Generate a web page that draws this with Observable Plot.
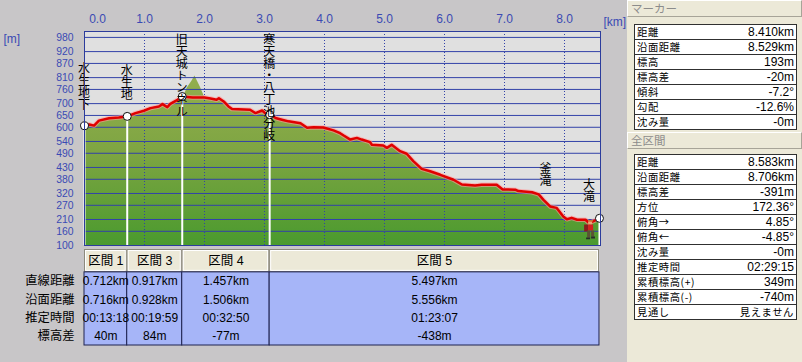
<!DOCTYPE html>
<html><head><meta charset="utf-8">
<script src="https://cdn.jsdelivr.net/npm/d3@7"></script>
<script src="https://cdn.jsdelivr.net/npm/@observablehq/plot@0.6"></script>
<style>
html,body{margin:0;padding:0;}
body{background:#c8c6c8;width:802px;height:362px;overflow:hidden;position:relative;font-family:"Liberation Sans","Noto Sans CJK JP",sans-serif;}
#chart{position:absolute;left:0;top:0;}
#table{position:absolute;left:0;top:248px;}
#panel{position:absolute;left:627px;top:0;width:175px;height:362px;background:#ece9d8;}
.hdr{position:absolute;left:0;width:175px;height:17px;box-sizing:border-box;border-top:1px solid #fff;border-left:1px solid #fff;border-bottom:1px solid #a7a498;border-right:1px solid #a7a498;color:#8c8c8c;font-size:11.5px;line-height:15px;padding-left:3px;font-family:"Noto Sans CJK JP",sans-serif;}
table.info{position:absolute;left:7px;width:163px;border-collapse:collapse;background:#fff;font-size:12px;border:1px solid #303030;}
table.info td{height:14px;padding:0 2px;border-top:1px solid #303030;line-height:14px;white-space:nowrap;color:#000;}
table.info td.l{font-family:"Noto Sans CJK JP",sans-serif;font-size:10.3px;letter-spacing:0.6px;}
table.info td.v{text-align:right;}
table.info td.cjk{font-family:"Noto Sans CJK JP",sans-serif;font-size:10.3px;letter-spacing:0.6px;}
.vlabel{writing-mode:vertical-rl;-webkit-writing-mode:vertical-rl;}
</style></head>
<body>
<div id="chart"></div>
<div id="table"></div>
<div id="panel">
  <div class="hdr" style="top:0">マーカー</div>
  <table class="info" id="t1" style="top:24px"></table>
  <div class="hdr" style="top:132px">全区間</div>
  <table class="info" id="t2" style="top:154px"></table>
</div>
<script>
// ---------- data ----------
const trackKm   = [0, 0.08, 0.16, 0.24, 0.41, 0.57, 0.712, 0.85, 0.99, 1.10, 1.24, 1.30, 1.38, 1.43, 1.55, 1.629, 1.80, 2.00, 2.10, 2.20, 2.24, 2.32, 2.40, 2.46, 2.76, 2.85, 2.96, 3.01, 3.086, 3.20, 3.29, 3.40, 3.60, 3.71, 3.82, 3.98, 4.15, 4.26, 4.32, 4.43, 4.54, 4.62, 4.76, 4.79, 4.98, 5.04, 5.12, 5.26, 5.37, 5.48, 5.62, 5.76, 5.93, 6.15, 6.29, 6.51, 6.62, 6.87, 6.97, 7.18, 7.23, 7.46, 7.57, 7.65, 7.76, 7.87, 7.98, 8.04, 8.12, 8.21, 8.35, 8.41, 8.51, 8.583];
const trackElev = [606, 612, 607, 628, 638, 641, 646, 660, 670, 681, 688, 698, 685, 699, 716, 730, 726, 726, 722, 716, 723, 709, 688, 677, 674, 660, 671, 660, 653, 638, 632, 625, 617, 598, 600, 599, 587, 575, 565, 548, 555, 548, 537, 526, 523, 513, 526, 499, 488, 457, 424, 414, 399, 378, 358, 354, 357, 357, 337, 336, 330, 325, 316, 293, 265, 259, 223, 211, 217, 209, 209, 195, 206, 215];
// terrain section that differs from the track (peak beside the tunnel)
const peakKm   = [1.66, 1.71, 1.79, 1.84, 1.93, 2.0];
const peakElev = [733, 765, 795, 817, 770, 728];

const yTicks = [100, 160, 210, 270, 320, 380, 430, 490, 540, 600, 650, 700, 760, 810, 870, 920, 980];
const xTicks = [0, 1, 2, 3, 4, 5, 6, 7, 8];

const waypointNames  = ["水生地下", "水生地", "旧天城トンネル", "寒天橋・八丁池分岐", "釜滝", "大滝"];
const waypointKm     = [0, 0.712, 1.629, 3.086, 7.69, 8.583];
const waypointElev   = [606, 646, 730, 653, 285, 215];
const waypointMarked = [true, true, true, true, false, true];

const hikerKm = 8.41, hikerElev = 193;

const sectionNames = ["区間 1", "区間 3", "区間 4", "区間 5"];
const sectionStart = [0, 0.712, 1.629, 3.086];
const sectionEnd   = [0.712, 1.629, 3.086, 8.583];
const rowLabels    = ["直線距離", "沿面距離", "推定時間", "標高差"];
const straightDist = ["0.712km", "0.917km", "1.457km", "5.497km"];
const surfaceDist  = ["0.716km", "0.928km", "1.506km", "5.556km"];
const estTime      = ["00:13:18", "00:19:59", "00:32:50", "01:23:07"];
const elevDiff     = ["40m", "84m", "-77m", "-438m"];

const markerLabels = ["距離", "沿面距離", "標高", "標高差", "傾斜", "勾配", "沈み量"];
const markerValues = ["8.410km", "8.529km", "193m", "-20m", "-7.2°", "-12.6%", "-0m"];
const totalLabels  = ["距離", "沿面距離", "標高差", "方位", "俯角→", "俯角←", "沈み量", "推定時間", "累積標高(+)", "累積標高(-)", "見通し"];
const totalValues  = ["8.583km", "8.706km", "-391m", "172.36°", "4.85°", "-4.85°", "-0m", "02:29:15", "349m", "-740m", "見えません"];

// ---------- derived tables ----------
const track = trackKm.map((k, i) => ({km: k, elev: trackElev[i]}));
const terrain = track.filter(d => d.km < peakKm[0] || d.km > peakKm[peakKm.length - 1])
  .concat(peakKm.map((k, i) => ({km: k, elev: peakElev[i]})))
  .sort((a, b) => a.km - b.km);
const waypoints = waypointNames.map((n, i) => ({name: n, km: waypointKm[i], elev: waypointElev[i], marked: waypointMarked[i]}));
const marked = waypoints.filter(d => d.marked);

const W = 627, H = 247, ML = 84, MR = 27, MT = 31, MB = 2;
const xDomain = [0, 8.6], yDomain = [100, 1005];
const fs = 12;

const blue = "#3a4ab4";
const gridBlue = "#3242a8";

const hikerSvg = "<svg xmlns='http://www.w3.org/2000/svg' width='12' height='20' viewBox='0 0 12 20'>" +
  "<rect x='5' y='0' width='5' height='2' fill='#c07838'/><rect x='5' y='2' width='4' height='3' fill='#e8a878'/>" +
  "<rect x='1' y='5' width='4' height='7' fill='#8a1c1c'/><rect x='5' y='5' width='5' height='6' fill='#d42020'/>" +
  "<rect x='4' y='11' width='3' height='7' fill='#5a5432'/><rect x='8' y='11' width='3' height='6' fill='#5a5432'/>" +
  "<rect x='3' y='18' width='4' height='2' fill='#2a2a2a'/><rect x='8' y='17' width='4' height='2' fill='#2a2a2a'/></svg>";
const hikerSrc = "data:image/svg+xml;charset=utf-8," + encodeURIComponent(hikerSvg);

const gradient = () => {
  const defs = d3.create("svg:defs");
  const g = defs.append("linearGradient").attr("id", "terrainFill").attr("x1", 0).attr("x2", 0).attr("y1", 0).attr("y2", 1);
  g.append("stop").attr("offset", "0%").attr("stop-color", "#93ae4e");
  g.append("stop").attr("offset", "45%").attr("stop-color", "#7ea542");
  g.append("stop").attr("offset", "100%").attr("stop-color", "#4a9a2e");
  return defs.node();
};

// vertical (tategaki) waypoint labels, placed with the chart's own scales
const verticalLabels = (index, scales, values, dims) => {
  const {x, y} = scales;
  const top = dims.marginTop, right = dims.width - dims.marginRight;
  const g = d3.create("svg:g")
    .attr("font-family", "'Noto Sans CJK JP',sans-serif")
    .attr("font-size", fs).attr("fill", "#000");
  for (const d of waypoints) {
    const n = [...d.name].length;
    const px = Math.min(x(d.km), right - 11);
    const bottom = y(d.elev) - 15;
    const fits = bottom - n * fs >= top;
    g.append("text")
      .attr("class", "vlabel")
      .attr("x", px)
      .attr("y", fits ? bottom : top + 2)
      .attr("text-anchor", fits ? "end" : "start")
      .text(d.name);
  }
  return g.node();
};

const chart = Plot.plot({
  width: W, height: H,
  marginLeft: ML, marginRight: MR, marginTop: MT, marginBottom: MB,
  style: {background: "transparent", fontFamily: "'Liberation Sans','Noto Sans CJK JP',sans-serif", fontSize: "12px", overflow: "visible"},
  x: {domain: xDomain},
  y: {domain: yDomain},
  marks: [
    gradient,
    Plot.frame({fill: "#e0e0e0"}),
    Plot.areaY(terrain, {x: "km", y1: yDomain[0], y2: "elev", fill: "url(#terrainFill)"}),
    Plot.gridY(yTicks, {stroke: gridBlue, strokeOpacity: 1, strokeWidth: 1}),
    Plot.gridX(xTicks, {stroke: gridBlue, strokeOpacity: 1, strokeWidth: 1, strokeDasharray: "1,2"}),
    Plot.ruleX(marked, {x: "km", y1: yDomain[0], y2: "elev", stroke: "white", strokeWidth: 2}),
    Plot.line(track, {x: "km", y: "elev", stroke: "#ff9a9a", strokeWidth: 4.5, strokeOpacity: 0.6}),
    Plot.line(track, {x: "km", y: "elev", stroke: "#e00000", strokeWidth: 2.5}),
    Plot.image([{km: hikerKm, elev: hikerElev}], {x: "km", y: "elev", src: hikerSrc, width: 12, height: 20, dy: 6}),
    Plot.dot(marked, {x: "km", y: "elev", r: 4, fill: "white", stroke: "#111", strokeWidth: 1}),
    verticalLabels,
    Plot.frame({stroke: "#2c3c9c", strokeWidth: 1}),
    Plot.axisY(yTicks, {anchor: "left", tickSize: 0, tickPadding: 11, fill: blue, fontSize: 10.4, label: null}),
    Plot.axisX([0], {anchor: "top", tickSize: 0, tickPadding: 9, dx: 13, fill: blue, fontSize: 12, tickFormat: d => d.toFixed(1), label: null}),
    Plot.axisX(xTicks.slice(1), {anchor: "top", tickSize: 0, tickPadding: 9, fill: blue, fontSize: 12, tickFormat: d => d.toFixed(1), label: null}),
    Plot.text(["[m]"], {frameAnchor: "top-left", dx: -81, dy: 3, textAnchor: "start", fill: blue, fontSize: 12}),
    Plot.text(["[km]"], {frameAnchor: "top-right", dx: 3, dy: -14, textAnchor: "start", fill: blue, fontSize: 12})
  ]
});
document.getElementById("chart").append(chart);

// ---------- section table (shares the x scale) ----------
const sections = sectionNames.map((n, j) => ({name: n, x1: sectionStart[j], x2: sectionEnd[j], mid: (sectionStart[j] + sectionEnd[j]) / 2}));
const rowsData = [straightDist, surfaceDist, estTime, elevDiff];
const cells = rowsData.flatMap((r, i) => r.map((t, j) => ({row: i, mid: sections[j].mid, t})));
const headerTop = -1.25;

const table = Plot.plot({
  width: W, height: 98,
  marginLeft: ML, marginRight: MR, marginTop: 1, marginBottom: 1,
  style: {background: "transparent", fontFamily: "'Liberation Sans','Noto Sans CJK JP',sans-serif", fontSize: "12px", overflow: "visible"},
  x: {domain: xDomain, axis: null},
  y: {domain: [headerTop, rowLabels.length], reverse: true, axis: null},
  marks: [
    Plot.rect(sections, {x1: "x1", x2: "x2", y1: headerTop, y2: 0, fill: "#ece9d8", stroke: "#8c897c", inset: 0.5}),
    Plot.rect(sections, {x1: "x1", x2: "x2", y1: headerTop, y2: 0, fill: "none", stroke: "#ffffff", inset: 1.5}),
    Plot.rect(sections, {x1: "x1", x2: "x2", y1: 0, y2: rowLabels.length, fill: "#a6b5f8", stroke: "#1e2250", strokeWidth: 1}),
    Plot.text(sections, {x: "mid", y: headerTop / 2, text: "name", fill: "#000", fontSize: 12.5}),
    Plot.text(cells, {x: "mid", y: d => d.row + 0.5, text: "t", fill: "#000", fontSize: 12}),
    Plot.text(rowLabels, {y: (d, i) => i + 0.5, frameAnchor: "left", dx: -10, textAnchor: "end", fill: "#000", fontSize: 12.3, fontFamily: "'Noto Sans CJK JP',sans-serif"})
  ]
});
document.getElementById("table").append(table);

// ---------- side panel ----------
const cjk = /[\u3040-\u30ff\u4e00-\u9fff]/;
function fill(id, labels, values) {
  const t = document.getElementById(id);
  labels.forEach((l, i) => {
    const tr = document.createElement("tr");
    const a = document.createElement("td"); a.textContent = l; a.className = "l";
    const b = document.createElement("td"); b.textContent = values[i];
    b.className = cjk.test(values[i]) ? "v cjk" : "v";
    tr.append(a, b); t.append(tr);
  });
}
fill("t1", markerLabels, markerValues);
fill("t2", totalLabels, totalValues);
</script>
</body></html>
